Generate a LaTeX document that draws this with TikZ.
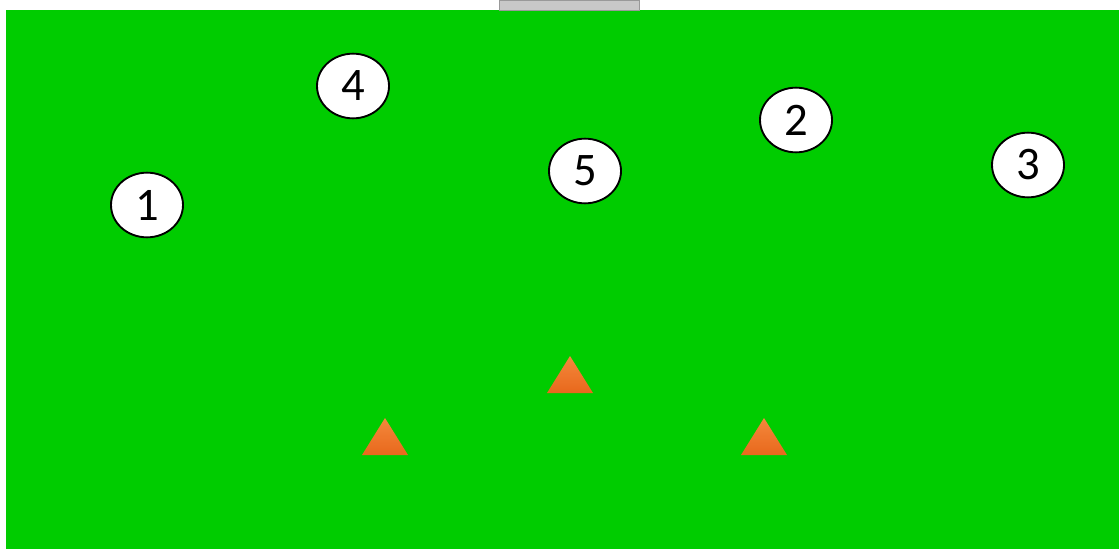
\documentclass[tikz,border=0pt]{standalone}
\usepackage{fontspec}
\setmainfont{Carlito}
\usetikzlibrary{positioning,shapes.geometric}
\definecolor{pitch}{HTML}{00CC00}
\definecolor{goalgray}{HTML}{C8C8C8}
\definecolor{conetop}{HTML}{F4883C}
\definecolor{conebot}{HTML}{E8681C}

\begin{document}
\begin{tikzpicture}[
    x=0.75pt,y=-0.75pt,
    player/.style={ellipse,draw=black,line width=1.4pt,fill=white,minimum width=54pt,minimum height=48.5pt,inner sep=0pt,font=\fontsize{35}{40}\selectfont},
    cone/.style={top color=conetop,bottom color=conebot,draw=none}
]
    \useasboundingbox (0,0) rectangle (1119,549);
    \fill[pitch] (6,10) rectangle (1119,549);
    \fill[goalgray,draw=gray!80,line width=0.6pt] (499,0) rectangle (639,10);

    \node[player] (p1) at (147,205) {1};
    \node[player] (p4) at (353,86) {4};
    \node[player] (p5) at (585,171) {5};
    \node[player] (p2) at (796,120) {2};
    \node[player] (p3) at (1028,165) {3};

    \shade[cone] (570,356) -- (593,393) -- (547,393) -- cycle;
    \shade[cone] (385,418) -- (408,455) -- (362,455) -- cycle;
    \shade[cone] (764,418) -- (787,455) -- (741,455) -- cycle;
\end{tikzpicture}
\end{document}
